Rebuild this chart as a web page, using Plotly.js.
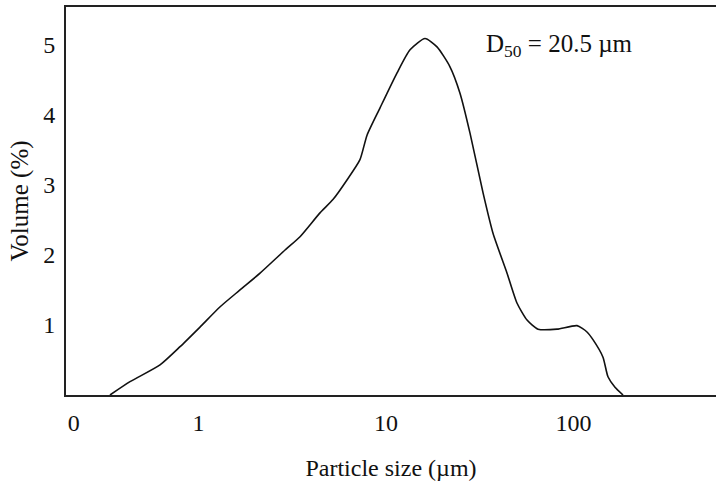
<!DOCTYPE html>
<html>
<head>
<meta charset="utf-8">
<script src="https://cdn.plot.ly/plotly-3.0.1.min.js"></script>
<style>html,body{margin:0;padding:0;background:#fff;}#chart{width:716px;height:487px;}</style>
</head>
<body>
<div id="chart"></div>
<script>
// Particle size (µm) and volume (%)
var particleSize = [0.337, 0.431, 0.623, 0.797, 1.018, 1.304, 1.664, 2.128, 2.893, 3.477, 4.443, 5.21, 6.19, 7.26, 7.92, 9.29, 11.45, 13.43, 16.14, 18.7, 21.9, 24.8, 28.05, 32.9, 37.2, 44.2, 50.0, 56.5, 64.7, 81.7, 104.4, 118, 127, 143.6, 152.7, 166.4, 183.7];
var volume = [0.0, 0.19, 0.43, 0.69, 0.97, 1.26, 1.50, 1.74, 2.07, 2.26, 2.60, 2.79, 3.07, 3.36, 3.71, 4.10, 4.60, 4.93, 5.09, 4.97, 4.69, 4.31, 3.74, 2.89, 2.31, 1.74, 1.31, 1.07, 0.94, 0.94, 0.99, 0.90, 0.79, 0.54, 0.26, 0.11, 0.0];
var xTickVals = [0.216, 1, 10, 100];
var xTickText = ["0", "1", "10", "100"];
var yTickVals = [1, 2, 3, 4, 5];
var yTickText = ["1", "2", "3", "4", "5"];
var annotationText = "D<sub>50</sub> = 20.5 µm";

var serif = "Liberation Serif, Times New Roman, serif";

var trace = {
  x: particleSize,
  y: volume,
  type: "scatter",
  mode: "lines",
  line: {color: "#111", width: 1.6, shape: "spline", smoothing: 0.6},
  hoverinfo: "skip"
};

var layout = {
  width: 716,
  height: 487,
  margin: {l: 66, r: 0, t: 7, b: 92},
  paper_bgcolor: "#fff",
  plot_bgcolor: "#fff",
  showlegend: false,
  font: {family: serif, color: "#111", size: 24},
  xaxis: {
    type: "log",
    range: [-0.707, 2.76],
    tickvals: xTickVals,
    ticktext: xTickText,
    ticks: "",
    ticklabelstandoff: 5,
    showgrid: false,
    zeroline: false,
    showline: true,
    linecolor: "#222",
    linewidth: 2,
    mirror: true,
    tickfont: {family: serif, size: 24, color: "#111"},
    title: {text: "Particle size (µm)", font: {family: serif, size: 24, color: "#111"}, standoff: 24}
  },
  yaxis: {
    range: [0, 5.54],
    tickvals: yTickVals,
    ticktext: yTickText,
    ticks: "",
    ticklabelstandoff: 4,
    showgrid: false,
    zeroline: false,
    showline: true,
    linecolor: "#222",
    linewidth: 2,
    mirror: false,
    tickfont: {family: serif, size: 24, color: "#111"},
    title: {text: "Volume (%)", font: {family: serif, size: 25, color: "#111"}, standoff: 7}
  },
  annotations: [{
    xref: "paper", yref: "paper",
    x: 0.643, y: 0.902,
    xanchor: "left", yanchor: "middle",
    text: annotationText,
    showarrow: false,
    font: {family: serif, size: 25, color: "#111"}
  }]
};

Plotly.newPlot("chart", [trace], layout, {displayModeBar: false, staticPlot: true});
</script>
</body>
</html>
